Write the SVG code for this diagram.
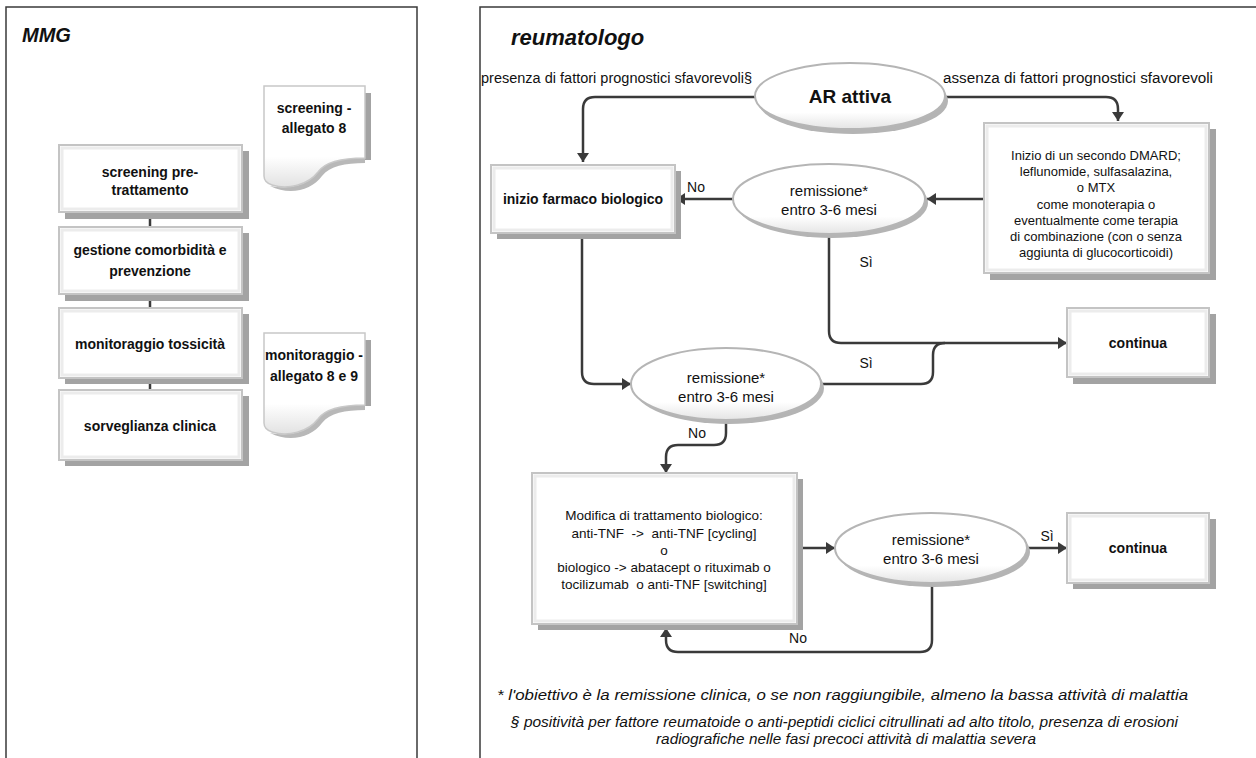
<svg xmlns="http://www.w3.org/2000/svg" width="1256" height="758" viewBox="0 0 1256 758">
<defs>
<marker id="arr" markerUnits="userSpaceOnUse" markerWidth="10" markerHeight="12" refX="9" refY="6" orient="auto">
<path d="M0,0 L9,6 L0,12 z" fill="#3a3a3a"/>
</marker>
<linearGradient id="docg" x1="0" y1="0" x2="0" y2="1">
<stop offset="0" stop-color="#ffffff"/>
<stop offset="0.7" stop-color="#ffffff"/>
<stop offset="1" stop-color="#e2e2e2"/>
</linearGradient>
<linearGradient id="ellg" x1="0" y1="0" x2="0" y2="1">
<stop offset="0" stop-color="#ffffff"/>
<stop offset="0.75" stop-color="#ffffff"/>
<stop offset="1" stop-color="#e4e4e4"/>
</linearGradient>
</defs>
<style>
.frame{fill:none;stroke:#3a3a3a;stroke-width:1.5}
.shadow{fill:#a3a3a3}
.box{fill:#ffffff;stroke:#c4c4c4;stroke-width:2}
.inner{fill:none;stroke:#ececec;stroke-width:3}
.ell{fill:url(#ellg);stroke:#b5b5b5;stroke-width:2}
.eshadow{fill:#b4b4b4}
.doc{fill:url(#docg);stroke:#c8c8c8;stroke-width:1.5}
.con{fill:none;stroke:#3a3a3a;stroke-width:2.5}
.conm{fill:none;stroke:#3a3a3a;stroke-width:2.5;marker-end:url(#arr)}
text{font-family:"Liberation Sans",Arial,sans-serif;fill:#111}
.b13{font-size:14px;font-weight:bold;text-anchor:middle}
.n14{font-size:15px;text-anchor:middle}
.n12{font-size:13px;text-anchor:middle}
.n13{font-size:13.5px;text-anchor:middle}
.lbl{font-size:14px}
.title{font-weight:bold;font-style:italic}
.foot{font-size:14px;font-style:italic}
</style>

<!-- panels -->
<g id="panel-mmg">
<path class="frame" d="M6,758 V7 H417 V758"/>
<text class="title" x="22" y="42" font-size="20">MMG</text>
</g>
<g id="panel-reumatologo">
<path class="frame" d="M480,758 V7 H1256"/>
<text class="title" x="511" y="45" font-size="22">reumatologo</text>
</g>

<!-- connectors -->
<g id="connectors">
<path class="con" d="M150,213 V227"/>
<path class="con" d="M150,295 V308"/>
<path class="con" d="M150,378 V390"/>
<path class="conm" d="M755,97 H595 Q583,97 583,109 V162"/>
<path class="conm" d="M945,97 H1106 Q1118,97 1118,109 V121"/>
<path class="conm" d="M984,199 H927"/>
<path class="conm" d="M733,199 H676"/>
<path class="conm" d="M829,234 V331 Q829,343 841,343 H1067"/>
<path class="conm" d="M582,234 V372 Q582,384 594,384 H631"/>
<path class="con" d="M822,384 H921 Q933,384 933,372 V355 Q933,343 945,343"/>
<path class="conm" d="M726,420 V433 Q726,445 714,445 H678 Q666,445 666,457 V473"/>
<path class="conm" d="M797,548 H835"/>
<path class="conm" d="M1027,548 H1067"/>
<path class="conm" d="M932,583 V640 Q932,652 920,652 H678 Q666,652 666,640 V628"/>
<text class="lbl" x="696" y="192" text-anchor="middle">No</text>
<text class="lbl" x="866" y="267" text-anchor="middle">Sì</text>
<text class="lbl" x="866" y="368" text-anchor="middle">Sì</text>
<text class="lbl" x="697" y="438" text-anchor="middle">No</text>
<text class="lbl" x="1047" y="541" text-anchor="middle">Sì</text>
<text class="lbl" x="798" y="643" text-anchor="middle">No</text>
<text class="lbl" x="481" y="83" textLength="271" lengthAdjust="spacingAndGlyphs">presenza di fattori prognostici sfavorevoli§</text>
<text class="lbl" x="943" y="83" textLength="270" lengthAdjust="spacingAndGlyphs">assenza di fattori prognostici sfavorevoli</text>
</g>

<!-- MMG nodes -->
<g id="n-screening-pre">
<rect class="shadow" x="65" y="151" width="184" height="68"/>
<rect class="box" x="59" y="145" width="183" height="67"/>
<rect class="inner" x="62" y="148" width="177" height="61"/>
<text class="b13" x="150" y="177">screening pre-</text>
<text class="b13" x="150" y="195">trattamento</text>
</g>
<g id="n-gestione">
<rect class="shadow" x="65" y="233" width="184" height="68"/>
<rect class="box" x="59" y="227" width="183" height="67"/>
<rect class="inner" x="62" y="230" width="177" height="61"/>
<text class="b13" x="150" y="255">gestione comorbidità e</text>
<text class="b13" x="150" y="276">prevenzione</text>
</g>
<g id="n-monitoraggio">
<rect class="shadow" x="65" y="314" width="184" height="70"/>
<rect class="box" x="59" y="308" width="183" height="70"/>
<rect class="inner" x="62" y="311" width="177" height="64"/>
<text class="b13" x="150" y="349">monitoraggio tossicità</text>
</g>
<g id="n-sorveglianza">
<rect class="shadow" x="65" y="396" width="184" height="70"/>
<rect class="box" x="59" y="390" width="183" height="70"/>
<rect class="inner" x="62" y="393" width="177" height="64"/>
<text class="b13" x="150" y="431">sorveglianza clinica</text>
</g>
<g id="doc-screening">
<path class="shadow" d="M365,93 H371 V160 H365 Z"/>
<path fill="#b8b8b8" d="M270,186 C290,196 312,190 322,176 C330,166 345,163 365,163 V158 C340,158 325,162 318,172 C308,185 290,190 270,186 Z"/>
<path class="doc" d="M264,86 H365 V158 C340,158 325,162 318,172 C308,185 288,190 272,185 C266,183 264,180 264,176 Z"/>
<text class="b13" x="314" y="113">screening -</text>
<text class="b13" x="314" y="133">allegato 8</text>
</g>
<g id="doc-monitoraggio">
<path class="shadow" d="M365,340 H371 V406 H365 Z"/>
<path fill="#b8b8b8" d="M270,433 C290,443 312,437 322,423 C330,413 345,410 365,410 V405 C340,405 325,409 318,419 C308,432 290,437 270,433 Z"/>
<path class="doc" d="M264,333 H365 V405 C340,405 325,409 318,419 C308,432 288,437 272,432 C266,430 264,427 264,423 Z"/>
<text class="b13" x="314" y="360">monitoraggio -</text>
<text class="b13" x="314" y="381">allegato 8 e 9</text>
</g>

<!-- reumatologo nodes -->
<g id="n-ar-attiva">
<ellipse class="eshadow" cx="853" cy="101" rx="95" ry="33"/>
<ellipse class="ell" cx="850" cy="96" rx="95" ry="33"/>
<text x="850" y="103" font-size="19" font-weight="bold" text-anchor="middle">AR attiva</text>
</g>
<g id="n-inizio-biologico">
<rect class="shadow" x="497" y="171" width="184" height="68"/>
<rect class="box" x="491" y="165" width="184" height="68"/>
<rect class="inner" x="494" y="168" width="178" height="62"/>
<text class="b13" x="583" y="204">inizio farmaco biologico</text>
</g>
<g id="n-dmard">
<rect class="shadow" x="990" y="129" width="226" height="151"/>
<rect class="box" x="984" y="123" width="225" height="150"/>
<rect class="inner" x="987" y="126" width="219" height="144"/>
<text class="n12" x="1096" y="160">Inizio di un secondo DMARD;</text>
<text class="n12" x="1096" y="176">leflunomide, sulfasalazina,</text>
<text class="n12" x="1096" y="192">o MTX</text>
<text class="n12" x="1096" y="209">come monoterapia o</text>
<text class="n12" x="1096" y="225">eventualmente come terapia</text>
<text class="n12" x="1096" y="241">di combinazione (con o senza</text>
<text class="n12" x="1096" y="257">aggiunta di glucocorticoidi)</text>
</g>
<g id="n-remissione-1">
<ellipse class="eshadow" cx="832" cy="203" rx="96" ry="35"/>
<ellipse class="ell" cx="829" cy="199" rx="96" ry="35"/>
<text class="n14" x="829" y="196">remissione*</text>
<text class="n14" x="829" y="215">entro 3-6 mesi</text>
</g>
<g id="n-continua-1">
<rect class="shadow" x="1073" y="314" width="143" height="70"/>
<rect class="box" x="1067" y="308" width="142" height="69"/>
<rect class="inner" x="1070" y="311" width="136" height="63"/>
<text class="b13" x="1138" y="348">continua</text>
</g>
<g id="n-remissione-2">
<ellipse class="eshadow" cx="729" cy="388" rx="95" ry="36"/>
<ellipse class="ell" cx="726" cy="384" rx="95" ry="36"/>
<text class="n14" x="726" y="383">remissione*</text>
<text class="n14" x="726" y="402">entro 3-6 mesi</text>
</g>
<g id="n-modifica">
<rect class="shadow" x="538" y="479" width="265" height="151"/>
<rect class="box" x="532" y="473" width="265" height="151"/>
<rect class="inner" x="535" y="476" width="259" height="145"/>
<text class="n13" x="664" y="520">Modifica di trattamento biologico:</text>
<text class="n13" x="664" y="538" xml:space="preserve">anti-TNF  -&gt;  anti-TNF [cycling]</text>
<text class="n13" x="664" y="555">o</text>
<text class="n13" x="664" y="572">biologico -&gt; abatacept o rituximab o</text>
<text class="n13" x="664" y="589" xml:space="preserve">tocilizumab  o anti-TNF [switching]</text>
</g>
<g id="n-remissione-3">
<ellipse class="eshadow" cx="934" cy="552" rx="96" ry="35"/>
<ellipse class="ell" cx="931" cy="548" rx="96" ry="35"/>
<text class="n14" x="931" y="545">remissione*</text>
<text class="n14" x="931" y="564">entro 3-6 mesi</text>
</g>
<g id="n-continua-2">
<rect class="shadow" x="1073" y="519" width="143" height="70"/>
<rect class="box" x="1067" y="513" width="142" height="70"/>
<rect class="inner" x="1070" y="516" width="136" height="64"/>
<text class="b13" x="1138" y="553">continua</text>
</g>

<!-- footnotes -->
<g id="footnotes">
<text class="foot" x="497" y="700" textLength="691" lengthAdjust="spacingAndGlyphs">* l'obiettivo è la remissione clinica, o se non raggiungibile, almeno la bassa attività di malattia</text>
<text class="foot" x="511" y="727" textLength="667" lengthAdjust="spacingAndGlyphs">§ positività per fattore reumatoide o anti-peptidi ciclici citrullinati ad alto titolo, presenza di erosioni</text>
<text class="foot" x="656" y="744" textLength="380" lengthAdjust="spacingAndGlyphs">radiografiche nelle fasi precoci attività di malattia severa</text>
</g>
</svg>
